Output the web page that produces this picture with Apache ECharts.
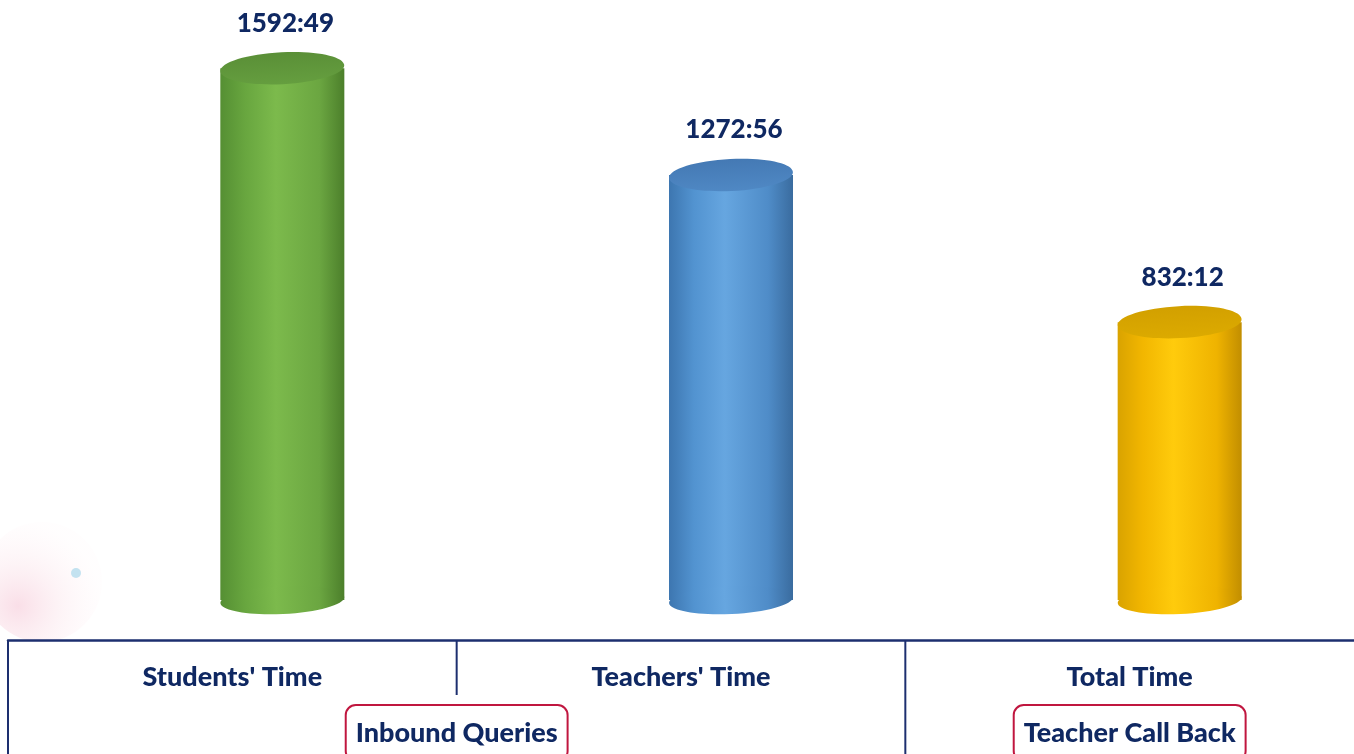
<!DOCTYPE html>
<html lang="en">
<head>
    <meta charset="UTF-8">
    <title>Time chart</title>
    <script src="https://cdn.jsdelivr.net/npm/echarts@6/dist/echarts.min.js"></script>
    <style>
        html, body { margin: 0; padding: 0; background: #ffffff; }
        #main { width: 1354px; height: 754px; }
    </style>
</head>
<body>
    <div id="main"></div>
    <script>
        // data (hours:minutes)
        var categories = ["Students' Time", "Teachers' Time", "Total Time"];
        var timeLabels = ['1592:49', '1272:56', '832:12'];
        var hours = [1592 + 49 / 60, 1272 + 56 / 60, 832 + 12 / 60];
        var groups = ['Inbound Queries', 'Teacher Call Back'];
        var groupSpans = [[0, 1], [2, 2]];

        var navy = '#0f2862';
        var font = 'Lato, "Open Sans", sans-serif';

        // body gradient stops + top face colour for each cylinder
        var palettes = [
            { body: ['#558f33', '#68a63f', '#7cba4c', '#6ba641', '#4c7f2b'], top: ['#5a8f37', '#659e3f'] },
            { body: ['#3d76b0', '#5293d0', '#66a6e0', '#4f8cc8', '#3a6c9f'], top: ['#4479b4', '#4f88c4'] },
            { body: ['#d9a300', '#f2b600', '#ffcb0c', '#efb300', '#c28e00'], top: ['#d2a000', '#dcaa00'] }
        ];

        function grad(stops) {
            return new echarts.graphic.LinearGradient(0, 0, 1, 0, [
                { offset: 0, color: stops[0] },
                { offset: 0.2, color: stops[1] },
                { offset: 0.45, color: stops[2] },
                { offset: 0.8, color: stops[3] },
                { offset: 1, color: stops[4] }
            ]);
        }

        function renderCylinder(params, api) {
            var idx = api.value(0);
            var base = api.coord([idx, 0]);
            var top = api.coord([idx, api.value(1)]);
            // 3d look: cylinders sit back and right of the category slot
            var cx = base[0] + 50;
            var by = base[1] - 40;
            var ty = top[1] - 40;
            var rx = 62, ry = 14;
            var p = palettes[idx];
            return {
                type: 'group',
                children: [
                    {
                        type: 'rect',
                        shape: { x: cx - rx, y: ty, width: rx * 2, height: by - ty },
                        style: { fill: grad(p.body) }
                    },
                    {
                        type: 'ellipse',
                        shape: { cx: cx, cy: by, rx: rx, ry: ry },
                        rotation: 0.05, originX: cx, originY: by,
                        style: { fill: grad(p.body) }
                    },
                    {
                        type: 'ellipse',
                        shape: { cx: cx, cy: ty, rx: rx, ry: ry + 2 },
                        rotation: 0.05, originX: cx, originY: ty,
                        style: {
                            fill: new echarts.graphic.LinearGradient(0, 0, 0, 1, [
                                { offset: 0, color: p.top[0] },
                                { offset: 1, color: p.top[1] }
                            ])
                        }
                    },
                    {
                        type: 'text',
                        x: cx + 3, y: ty - 45,
                        style: {
                            text: timeLabels[idx],
                            fill: navy,
                            font: '900 26px ' + font,
                            align: 'center',
                            verticalAlign: 'middle'
                        }
                    }
                ]
            };
        }

        var myChart = echarts.init(document.getElementById('main'));

        myChart.setOption({
            backgroundColor: '#ffffff',
            animation: false,
            grid: { left: 8, right: 0, top: 39, bottom: 114 },
            xAxis: {
                type: 'category',
                data: categories,
                axisLine: { lineStyle: { color: '#1d2f6f', width: 2.5 } },
                axisTick: { show: false },
                axisLabel: {
                    color: navy,
                    fontFamily: font,
                    fontWeight: 900,
                    fontSize: 27,
                    margin: 37,
                    verticalAlign: 'middle'
                }
            },
            yAxis: {
                type: 'value',
                min: 0,
                max: 1800,
                show: false,
                splitLine: { show: false }
            },
            series: [{
                type: 'custom',
                renderItem: renderCylinder,
                data: hours.map(function (v, i) { return [i, v]; }),
                clip: false
            }]
        });

        // table lines and group boxes under the axis, placed from the category scale
        var y0 = myChart.convertToPixel({ gridIndex: 0 }, [0, 0])[1];
        function slotEdge(i) {
            var a = myChart.convertToPixel({ xAxisIndex: 0 }, i);
            var b = myChart.convertToPixel({ xAxisIndex: 0 }, i + 1);
            return a - (b - a) / 2;
        }
        var graphics = [
            // faint decoration at left
            {
                type: 'circle', z: -10,
                shape: { cx: 42, cy: 582, r: 60 },
                style: {
                    fill: new echarts.graphic.RadialGradient(0.3, 0.7, 0.7, [
                        { offset: 0, color: 'rgba(244,190,208,0.5)' },
                        { offset: 0.5, color: 'rgba(250,222,230,0.35)' },
                        { offset: 1, color: 'rgba(255,240,244,0.1)' }
                    ])
                }
            },
            { type: 'circle', z: -10, shape: { cx: 76, cy: 573, r: 5 }, style: { fill: 'rgba(175,218,236,0.75)' } }
        ];
        var lineStyle = { stroke: '#1d2f6f', lineWidth: 2 };
        graphics.push({ type: 'line', shape: { x1: slotEdge(0), y1: y0, x2: slotEdge(0), y2: 754 }, style: lineStyle });
        graphics.push({ type: 'line', shape: { x1: slotEdge(1), y1: y0, x2: slotEdge(1), y2: y0 + 55 }, style: lineStyle });
        graphics.push({ type: 'line', shape: { x1: slotEdge(2), y1: y0, x2: slotEdge(2), y2: 754 }, style: lineStyle });

        groups.forEach(function (g, k) {
            var a = myChart.convertToPixel({ xAxisIndex: 0 }, groupSpans[k][0]);
            var b = myChart.convertToPixel({ xAxisIndex: 0 }, groupSpans[k][1]);
            graphics.push({
                type: 'text',
                x: (a + b) / 2, y: y0 + 93,
                style: {
                    text: g,
                    fill: navy,
                    font: '900 27px ' + font,
                    align: 'center',
                    verticalAlign: 'middle',
                    lineHeight: 30,
                    padding: [12, 9, 12, 9],
                    borderColor: '#c0163f',
                    borderWidth: 2,
                    borderRadius: 9,
                    backgroundColor: '#ffffff'
                }
            });
        });

        myChart.setOption({ graphic: graphics });
    </script>
</body>
</html>
